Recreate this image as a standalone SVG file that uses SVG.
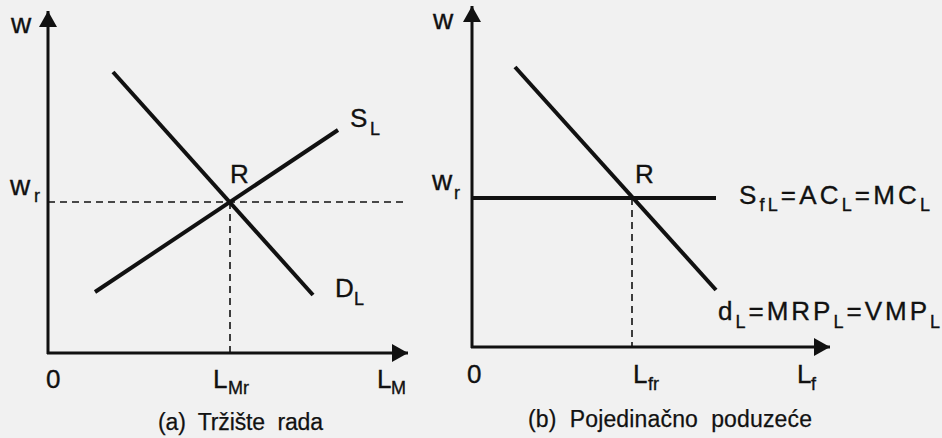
<svg xmlns="http://www.w3.org/2000/svg" width="942" height="438" viewBox="0 0 942 438">
  <defs>
    <marker id="arrow" viewBox="0 0 16 18" refX="16" refY="9" markerWidth="16" markerHeight="18" markerUnits="userSpaceOnUse" orient="auto">
      <path d="M0,0 L16,9 L0,18 z" fill="#111"/>
    </marker>
  </defs>
  <style>
    .axis { stroke: #111; stroke-width: 3; fill: none; }
    .curve { stroke: #111; stroke-width: 4; fill: none; stroke-linecap: butt; }
    .dash { stroke: #111; stroke-width: 1.6; stroke-dasharray: 7 5; fill: none; }
    text { font-family: "Liberation Sans", Arial, Helvetica, sans-serif; fill: #111; stroke: #111; stroke-width: 0.35; }
    .lbl { font-size: 26px; }
    .w { font-size: 28px; }
    .sub { font-size: 18px; }
    .cap { font-size: 23px; white-space: pre; stroke-width: 0.25; }
  </style>
  <rect x="0" y="0" width="942" height="438" fill="#f1f1f1"/>

  <!-- Panel (a) -->
  <g id="panel-a">
    <g id="axes-a">
      <line class="axis" x1="48" y1="354" x2="48" y2="11" marker-end="url(#arrow)"/>
      <line class="axis" x1="47" y1="353" x2="408" y2="353" marker-end="url(#arrow)"/>
    </g>
    <g id="guides-a">
      <line class="dash" x1="48" y1="202" x2="408" y2="202"/>
      <line class="dash" x1="230" y1="202" x2="230" y2="353"/>
    </g>
    <g id="curves-a">
      <line id="DL" class="curve" x1="113" y1="72" x2="313" y2="295"/>
      <line id="SL" class="curve" x1="95" y1="292" x2="338" y2="130"/>
    </g>
    <g id="labels-a">
      <text class="w" x="11" y="33">w</text>
      <text class="w" x="10" y="195">w<tspan class="sub" x="34" y="202">r</tspan></text>
      <text class="lbl" x="230" y="183">R</text>
      <text class="lbl" x="350" y="127">S<tspan class="sub" x="370" y="135">L</tspan></text>
      <text class="lbl" x="335" y="297">D<tspan class="sub" x="354" y="305">L</tspan></text>
      <text class="lbl" x="46" y="388">0</text>
      <text class="lbl" x="213" y="388">L<tspan class="sub" x="228" y="394">Mr</tspan></text>
      <text class="lbl" x="377" y="388">L<tspan class="sub" x="391" y="394">M</tspan></text>
      <text class="cap" x="158" y="430" textLength="165" lengthAdjust="spacing">(a)  Tržište  rada</text>
    </g>
  </g>

  <!-- Panel (b) -->
  <g id="panel-b">
    <g id="axes-b">
      <line class="axis" x1="472" y1="348" x2="472" y2="6" marker-end="url(#arrow)"/>
      <line class="axis" x1="471" y1="347" x2="830" y2="347" marker-end="url(#arrow)"/>
    </g>
    <g id="guides-b">
      <line class="dash" x1="632" y1="198" x2="632" y2="347"/>
    </g>
    <g id="curves-b">
      <line id="SfL" class="curve" x1="472" y1="198" x2="716" y2="198"/>
      <line id="dL" class="curve" x1="515" y1="67" x2="716" y2="290"/>
    </g>
    <g id="labels-b">
      <text class="w" x="433" y="29">w</text>
      <text class="w" x="432" y="190">w<tspan class="sub" x="454" y="199">r</tspan></text>
      <text class="lbl" x="635" y="183">R</text>
      <text class="lbl" x="739" y="204" textLength="191" lengthAdjust="spacing">S<tspan class="sub" dy="7">fL</tspan><tspan dy="-7">=AC</tspan><tspan class="sub" dy="7">L</tspan><tspan dy="-7">=MC</tspan><tspan class="sub" dy="7">L</tspan></text>
      <text class="lbl" x="718" y="320" textLength="222" lengthAdjust="spacing">d<tspan class="sub" dy="8">L</tspan><tspan dy="-8">=MRP</tspan><tspan class="sub" dy="8">L</tspan><tspan dy="-8">=VMP</tspan><tspan class="sub" dy="8">L</tspan></text>
      <text class="lbl" x="467" y="383">0</text>
      <text class="lbl" x="633" y="383">L<tspan class="sub" x="648" y="390">fr</tspan></text>
      <text class="lbl" x="797" y="383">L<tspan class="sub" x="811" y="390">f</tspan></text>
      <text class="cap" x="528" y="427" textLength="284" lengthAdjust="spacing">(b)  Pojedinačno  poduzeće</text>
    </g>
  </g>
</svg>
